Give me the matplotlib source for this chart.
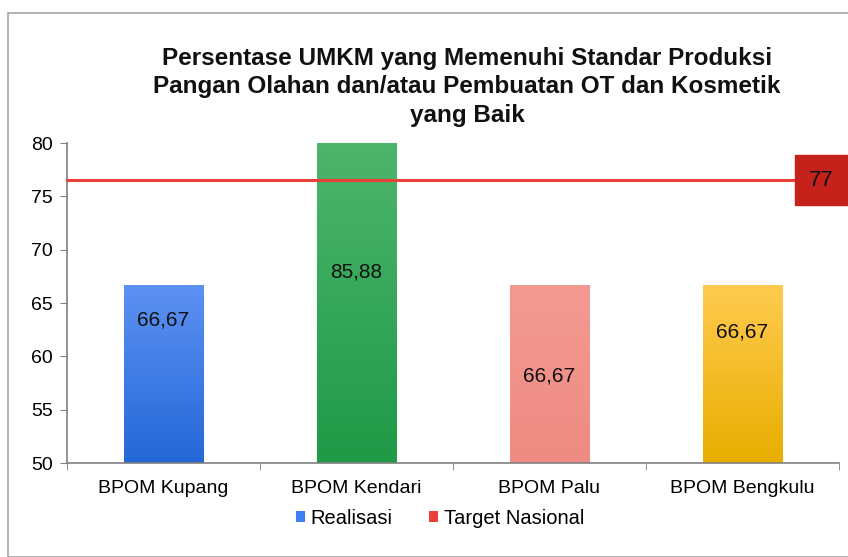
import numpy as np
import matplotlib
matplotlib.use("Agg")
import matplotlib.pyplot as plt
from matplotlib.patches import Patch, Rectangle
from matplotlib.colors import LinearSegmentedColormap

# data
categories = ["BPOM Kupang", "BPOM Kendari", "BPOM Palu", "BPOM Bengkulu"]
realisasi = [66.67, 85.88, 66.67, 66.67]
labels = ["66,67", "85,88", "66,67", "66,67"]
label_y = [63.4, 67.9, 58.2, 62.3]   # where each value label sits
target = 76.5
target_label = "77"

# top / bottom colour of each bar gradient
bar_top = ["#5d91f2", "#4db56b", "#f29a92", "#ffcb4f"]
bar_bot = ["#2468d8", "#1f9a47", "#ef8b82", "#e8ae00"]

plt.rcParams['font.family'] = ['Liberation Sans', 'DejaVu Sans']

fig = plt.figure(figsize=(8.48, 5.57), dpi=100)
fig.patches.append(Rectangle((8/848, 0), 1, 1 - 13/557, transform=fig.transFigure,
                             fill=False, edgecolor="#a6a6a6", lw=1.2))
ax = fig.add_axes([67/848, 1 - 463/557, 772/848, 320/557])

ymin, ymax = 50, 80
x = np.arange(len(categories))
w = 0.41
for i, v in enumerate(realisasi):
    top = min(v, ymax)
    cmap = LinearSegmentedColormap.from_list("g", [bar_bot[i], bar_top[i]])
    grad = np.linspace(0, 1, 100).reshape(-1, 1)
    ax.imshow(grad, cmap=cmap, origin="lower", aspect="auto",
              extent=[x[i] - w/2, x[i] + w/2, ymin, top], zorder=2)
    ax.text(x[i], label_y[i], labels[i], ha="center", va="center",
            fontsize=15, color="#111111", zorder=4)

ax.plot([-0.5, 3.5], [target, target], color="#e8413a", lw=2.2, zorder=3, clip_on=False)
ax.text(3.41, target, target_label,
        ha="center", va="center", fontsize=16, color="#111111", zorder=5, clip_on=False,
        bbox=dict(boxstyle="square,pad=0.65", fc="#c4221a", ec="#c4221a"))

ax.set_xlim(-0.5, 3.5)
ax.set_ylim(ymin, ymax)
ax.set_yticks(range(50, 81, 5))
ax.set_xticks(x)
ax.set_xticklabels(categories, fontsize=14)
ax.set_xticks(np.arange(-0.5, 4, 1), minor=True)
ax.tick_params(axis="x", which="major", length=0, pad=12)
ax.tick_params(axis="x", which="minor", length=5, color="#808080", direction="out")
ax.tick_params(axis="y", length=5, color="#808080", labelsize=14, pad=5)
for s in ["top", "right"]:
    ax.spines[s].set_visible(False)
for s in ["left", "bottom"]:
    ax.spines[s].set_color("#808080")
    ax.spines[s].set_linewidth(1.2)

fig.text(467/848, 1 - 87/557,
         "Persentase UMKM yang Memenuhi Standar Produksi\n"
         "Pangan Olahan dan/atau Pembuatan OT dan Kosmetik\nyang Baik",
         ha="center", va="center", fontsize=17.5, fontweight="bold",
         linespacing=1.3, color="#111111")

handles = [Patch(facecolor="#3b7ff0"), Patch(facecolor="#e8413a")]
fig.legend(handles, ["Realisasi", "Target Nasional"], loc="center",
           bbox_to_anchor=(440/848, 1 - 518/557), ncol=2, frameon=False,
           fontsize=14.5, handlelength=0.45, handleheight=0.45, handletextpad=0.3,
           columnspacing=1.8)

fig.savefig("out.png", dpi=100, facecolor="white")
